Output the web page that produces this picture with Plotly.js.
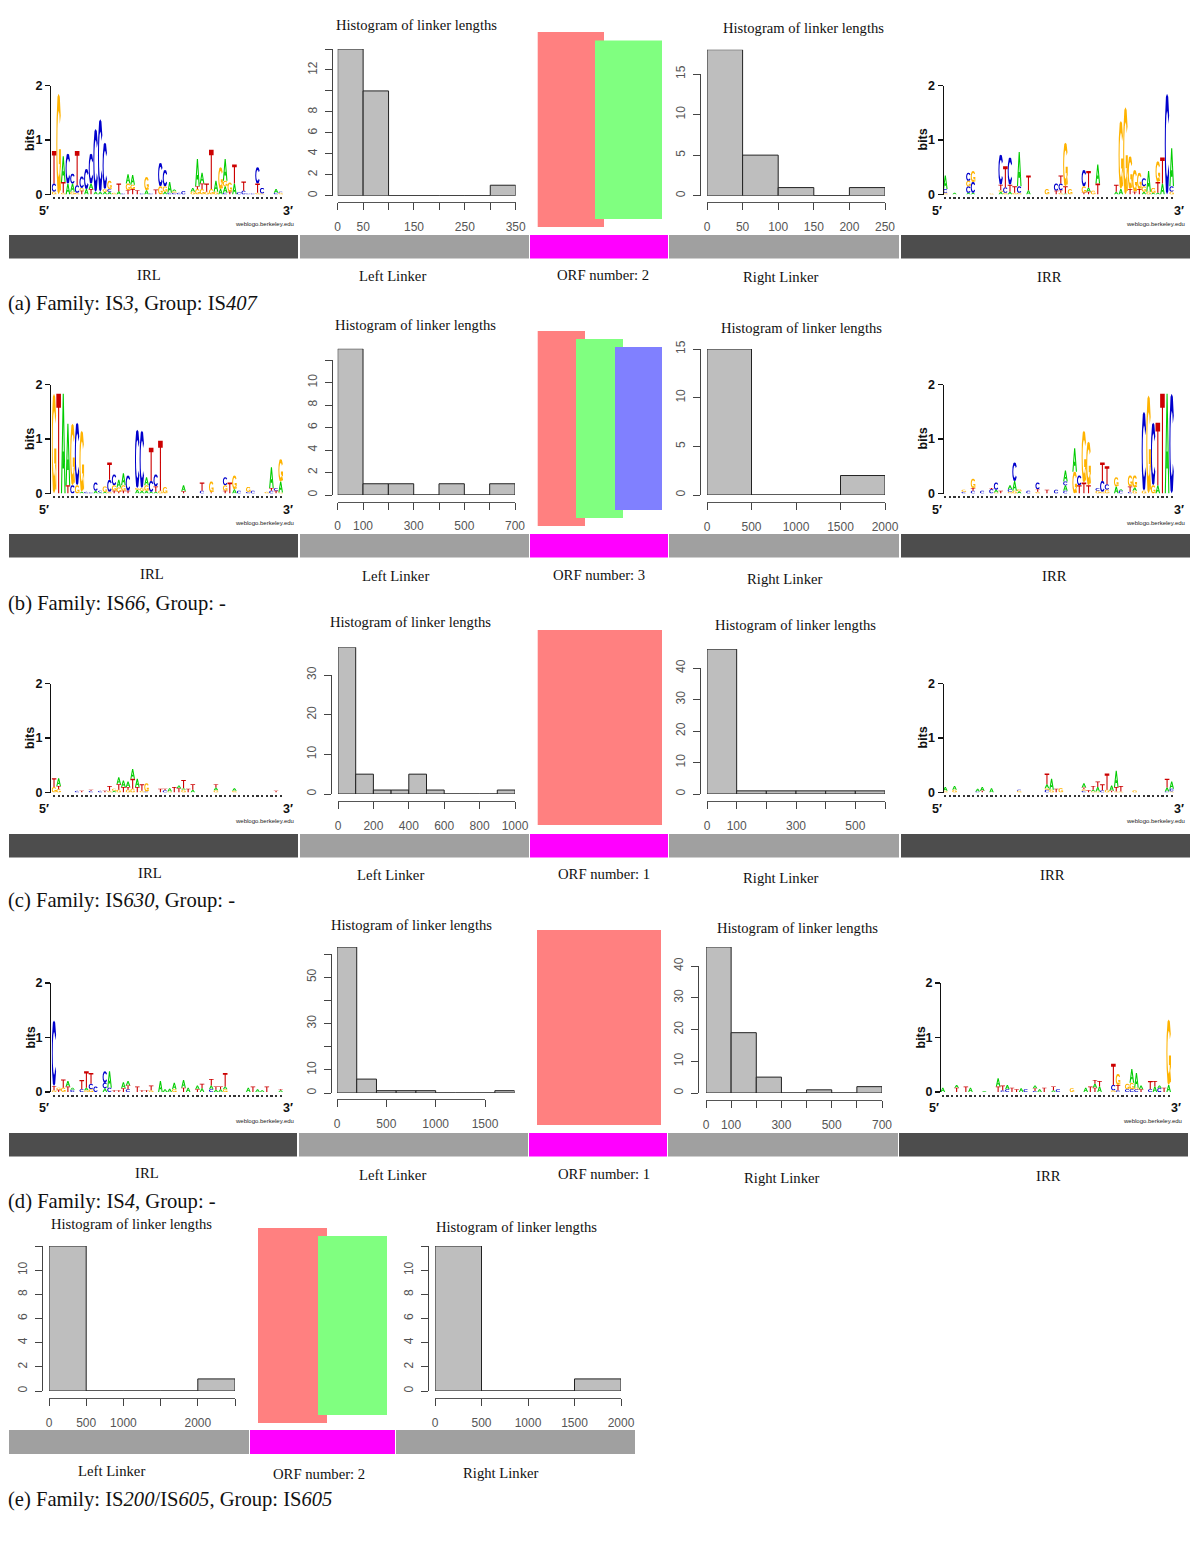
<!DOCTYPE html>
<html><head><meta charset="utf-8">
<script src="https://cdn.plot.ly/plotly-3.0.1.min.js"></script>
<style>html,body{margin:0;padding:0;background:#fff}</style></head>
<body><div id="chart" style="width:1200px;height:1553px"></div>
<script>
// ---------- Sequence logo values: "column:stack" with letter heights in hundredths of a bit, bottom to top
const logoIRLa=["1:G5 C15 T60","2:G185","3:G3 T20 A47","4:A20 C55","5:G5 A15 C18","6:G3 C14 T63","7:T7 G5 C21","8:A10 C37","9:T10 A10 C55","10:A5 C115","11:A5 C133","12:A5 G5 C85","13:A5 C5 G15","14:G3","15:A6 T14","16:C2","17:T8 G12 A17","18:T10 G8 A18","19:T8","20:C2","21:A8 G24","22:C2","23:T9","24:G15 C43","25:A5 G10 C30","26:C3 A20","27:C3 G3 A3","28:C3","29:C6","31:G5 A7","32:G10 T5 A50","33:G10 T10 A20","34:G5 T15","35:G10 T72","36:G5 A20","37:A10 G40","38:C3 A12 G10 A40","39:T5 G17","40:A20 T35","41:C4","42:C7 T17","43:C2","44:C2","45:G3 T17 C30","46:G2 C10","49:C3 A7","50:G3 C2"];
const logoIRRa=["1:G3 C7 A25","3:A3","6:A3 C12 G10 C15","7:A3 C20 G20","11:G2","13:A5 G3 T10 C55","14:G3 C10 T39","15:A5 T13 C50","16:G3 T12","17:G3 C12 A63","19:A8 T27","23:G10","25:T7 C13","26:G3 T5 C12 T15","27:A2 T13 G80","28:G10","31:T3 G12 C30","32:T5 A8 T30","33:G7","34:T20 A35","38:A5 T13","39:A10 G125","40:G160","41:T10 G60","42:T5 G40","43:T10 G30","44:A5 G10 C15","45:G5 A38","46:A3 G9","47:A3 T20 G38","48:A20 T48","49:C185","50:G5 C10 A70"];
const logoIRLb=["1:G183","2:T183","3:A183","4:T15 A113","5:C15 G113","6:G15 C115","7:A3 G112","8:C3","9:C2","10:A5 C15","11:A2 C3","12:A3 G10","13:G3 C22 T32","14:T5 G10 C20","15:T3 G8 A14","16:T5 G10 A22","17:T5 C28","19:A7 G3 C107","20:A5 G5 C105","21:A5 G10 A15","22:A3 C20 T61","23:A3 T10 C22","24:G5 T92","25:G12","29:T4 A11","33:C5 T15","35:T2 G20","38:T5 G10 C15","39:T20","40:A8 G25","41:C5","43:C3 G9","44:C5","47:G3","48:C5 T5 A38","49:T5 C5","50:G2 A20 G41"];
const logoIRRb=["5:C3 G4","7:C5 T5 G17","9:C5","11:C8 T2","12:G2 A5 C13","13:T5","15:G3 C5 A7","16:G5 A18 C34","17:A4 G4","19:C5","21:G3 T5 C12","23:T7","25:C7","27:C5 A10 C7 A20","29:G40 A43","30:T15 C18","31:T20 G95","32:T15 G80","34:G5 C5","35:G3 C20 T34","36:G7 C10 T33","38:A13 G17","39:C5 A3","41:C3 T10 G20","42:G5 A6 G22","44:G5 C145","45:G180","46:G15 C115","47:A15 T115","48:T183","49:A183","50:C183"];
const logoIRLc=["1:G10 T16","2:G6 T6 A14","6:C3","7:T3","9:C3 T2","11:C3","12:T3","13:G3 T9","14:A3 G4","15:G5 T10 A13","16:T10 A12","17:G5 T5 A10","18:G7 T18 A18","19:T10 A15","20:G3 T12","21:C2 G15","24:T7","25:C4 T3","26:G2 A6","27:T10","28:T8 A5","29:G5 A3 T15","30:T7","31:A5 T10","36:G4 A5 T6","40:G3 A5","49:T3"];
const logoIRRc=["1:G3 A7","3:G5 A7","8:C2 A5","9:T3 A7","11:A8","17:G3 C2","23:C5 G3 A7 T20","24:G5 A20","25:T7","26:G8","31:C3 G3 T3 A8","32:T4","33:G2 A3 T7","34:G2 A8 T10","35:C4 T11","36:G5 T30","37:T3 A10","38:G2 T8 A30","39:G2 T10","42:G4","49:C2 A7 T16","50:G2 C5 A13"];
const logoIRLd=["1:G3 T8 C120","2:T4 G4","3:G8 T15","4:T10 A10","5:C4 A4","7:C5 T17","8:G3 A5 T30","9:G5 C10 T20","10:C10","12:A7 C10 C21","13:C8 A30","14:T3","15:T3","16:T7 A11","17:C5 T7 A8","19:T10","20:T3","21:T3","22:G3 T9","24:A20","25:A5","26:A6","27:G5 A12","29:T8 A14","30:A8","32:T5 A7","33:A7 T8","35:C5 A7 T12","36:A4 T6","37:A5 T5","38:G5 A5 T25","43:A8","44:T10","45:A5","46:A3","47:T10","50:A3 T2"];
const logoIRRd=["1:A8","4:T8 A5","6:T10","7:A8","10:A2","13:T10 A15","14:C3 T9","15:C5 A8","16:T8","17:T5","18:A7","19:C5","21:C2 T5 A5","22:A5","23:T8","25:A3 T7","26:C5","29:G7","32:A8","33:T10","34:T8 A7 T7","35:A10 T10","38:G3 C10 T39","39:C3 T10 G20","41:C5 G10","42:C5 G12 A25","43:C5 G3 A27","44:T5 A7","46:C5 T15","47:A10 T10","48:C7 A5","49:T8","50:A13 G120"];

// ---------- Histogram values
const edgesAL=[0,50,100,150,200,250,300,350], countsAL=[14,10,0,0,0,0,1];
const edgesAR=[0,50,100,150,200,250], countsAR=[18,5,1,0,1];
const edgesBL=[0,100,200,300,400,500,600,700], countsBL=[13,1,1,0,1,0,1];
const edgesBR=[0,500,1000,1500,2000], countsBR=[15,0,0,2];
const edgesCL=[0,100,200,300,400,500,600,700,800,900,1000], countsCL=[37,5,1,1,5,1,0,0,0,1];
const edgesCR=[0,100,200,300,400,500,600], countsCR=[46,1,1,1,1,1];
const edgesDL=[0,200,400,600,800,1000,1200,1400,1600,1800], countsDL=[63,6,1,1,1,0,0,0,1];
const edgesDR=[0,100,200,300,400,500,600,700], countsDR=[46,19,5,0,1,0,2];
const edgesEL=[0,500,1000,1500,2000,2500], countsEL=[12,0,0,0,1];
const edgesER=[0,500,1000,1500,2000], countsER=[12,0,0,1];

// ---------- Tick labels
const xTicksAL=[0,50,100,150,200,250,300,350], xLabelsAL=['0','50','','150','','250','','350'];
const yTicksAL=[0,2,4,6,8,10,12,14], yLabelsAL=['0','2','4','6','8','','12',''];
const xTicksAR=[0,50,100,150,200,250], xLabelsAR=['0','50','100','150','200','250'];
const yTicksAR=[0,5,10,15], yLabelsAR=['0','5','10','15'];
const xTicksBL=[0,100,200,300,400,500,600,700], xLabelsBL=['0','100','','300','','500','','700'];
const yTicksBL=[0,2,4,6,8,10,12], yLabelsBL=['0','2','4','6','8','10',''];
const xTicksBR=[0,500,1000,1500,2000], xLabelsBR=['0','500','1000','1500','2000'];
const yTicksBR=[0,5,10,15], yLabelsBR=['0','5','10','15'];
const xTicksCL=[0,200,400,600,800,1000], xLabelsCL=['0','200','400','600','800','1000'];
const yTicksCL=[0,10,20,30], yLabelsCL=['0','10','20','30'];
const xTicksCR=[0,100,200,300,400,500,600], xLabelsCR=['0','100','','300','','500',''];
const yTicksCR=[0,10,20,30,40], yLabelsCR=['0','10','20','30','40'];
const xTicksDL=[0,500,1000,1500], xLabelsDL=['0','500','1000','1500'];
const yTicksDL=[0,10,20,30,40,50,60], yLabelsDL=['0','10','','30','','50',''];
const xTicksDR=[0,100,200,300,400,500,600,700], xLabelsDR=['0','100','','300','','500','','700'];
const yTicksDR=[0,10,20,30,40], yLabelsDR=['0','10','20','30','40'];
const xTicksEL=[0,500,1000,1500,2000,2500], xLabelsEL=['0','500','1000','','2000',''];
const yTicksEL=[0,2,4,6,8,10,12], yLabelsEL=['0','2','4','6','8','10',''];
const xTicksER=[0,500,1000,1500,2000], xLabelsER=['0','500','1000','1500','2000'];
const yTicksER=[0,2,4,6,8,10,12], yLabelsER=['0','2','4','6','8','10',''];

// ---------- Texts
const captions=['(a) Family: IS<i>3</i>, Group: IS<i>407</i>','(b) Family: IS<i>66</i>, Group: -','(c) Family: IS<i>630</i>, Group: -','(d) Family: IS<i>4</i>, Group: -','(e) Family: IS<i>200</i>/IS<i>605</i>, Group: IS<i>605</i>'];
const histTitle='Histogram of linker lengths';

// ---------- Page geometry and style
const W=1200,H=1553;
const SERIF='"Liberation Serif","Times New Roman",serif', SANS='"Liberation Sans",Arial,sans-serif';
const LETTER_COLORS={A:'#00cc00',C:'#0000cc',G:'#ffb300',T:'#cc0000'};
const cOuter=[[.95,.78],[.75,.97],[.5,1],[.25,.97],[.05,.75],[0,.5],[.05,.25],[.25,.03],[.5,0],[.75,.03],[.95,.22],[.75,.3],[.65,.2],[.5,.17],[.35,.22],[.25,.35],[.22,.5],[.25,.65],[.35,.78],[.5,.83],[.65,.8],[.75,.7]];
const GLYPHS={
 T:[[[0,.86],[1,.86],[1,1],[0,1]],[[.38,0],[.62,0],[.62,.86],[.38,.86]]],
 A:[[[0,0],[.38,1],[.62,1],[1,0],[.76,0],[.5,.72],[.24,0]],[[.3,.25],[.7,.25],[.62,.42],[.38,.42]]],
 C:[cOuter],
 G:[cOuter,[[.55,.45],[1,.45],[1,.04],[.8,.04],[.8,.3],[.55,.3]]]
};

const data=[],annotations=[],shapes=[],layout={};
let axN=0;
const note=(x,y,text,size,opt={})=>annotations.push(Object.assign({xref:'paper',yref:'paper',x:x/W,y:1-y/H,text,showarrow:false,xanchor:'center',yanchor:'middle',font:{family:SERIF,size,color:'#111'}},opt));
const rect=(x0,y0,x1,y1,color,layer)=>shapes.push({type:'rect',xref:'paper',yref:'paper',x0:x0/W,x1:x1/W,y0:1-y1/H,y1:1-y0/H,fillcolor:color,line:{width:0},layer:layer||'below'});

function addLogo(rows,g){
  axN++;const xn='x'+axN,yn='y'+axN,xa='xaxis'+axN,ya='yaxis'+axN;
  const byLetter={A:{x:[],y:[]},C:{x:[],y:[]},G:{x:[],y:[]},T:{x:[],y:[]}};
  rows.forEach(r=>{
    const [col,stack]=r.split(':');let base=0;const c=+col;
    stack.split(' ').forEach(s=>{
      const L=s[0],h=+s.slice(1)/100;
      GLYPHS[L].forEach(poly=>{
        poly.forEach(p=>{byLetter[L].x.push(c-.5+p[0]);byLetter[L].y.push(base+p[1]*h);});
        byLetter[L].x.push(c-.5+poly[0][0]);byLetter[L].y.push(base+poly[0][1]*h);
        byLetter[L].x.push(null);byLetter[L].y.push(null);
      });
      base+=h;
    });
  });
  Object.keys(byLetter).forEach(L=>data.push({type:'scatter',mode:'none',fill:'toself',fillcolor:LETTER_COLORS[L],x:byLetter[L].x,y:byLetter[L].y,xaxis:xn,yaxis:yn,hoverinfo:'skip',showlegend:false,cliponaxis:false}));
  layout[xa]={domain:[g.x0/W,g.x1/W],range:[.5,50.5],anchor:'free',position:1-(g.y0+1.5)/H,showgrid:false,zeroline:false,showline:false,ticks:'outside',ticklen:2,tickwidth:2.2,tickcolor:'#333',tickvals:Array.from({length:50},(_,i)=>i+1),showticklabels:false,fixedrange:true};
  layout[ya]={domain:[1-g.y0/H,1-g.y2/H],range:[0,2],anchor:'free',position:g.ax/W,showgrid:false,zeroline:false,showline:true,linecolor:'#111',linewidth:1.3,ticks:'outside',ticklen:5,tickwidth:1.3,tickcolor:'#111',tickvals:[0,1,2],ticktext:['0','1','2'],tickfont:{family:SANS,size:12.5,color:'#111',weight:'bold'},fixedrange:true};
  const sans={family:SANS,size:12.5,color:'#111',weight:'bold'};
  note(g.ax-20,(g.y0+g.y2)/2,'bits',12.5,{font:sans,textangle:-90});
  note(g.ax-6,g.y0+16,'5′',12.5,{font:sans});
  note(g.x1+5,g.y0+16,'3′',12.5,{font:sans});
  note(g.x1-19,g.y0+29,'weblogo.berkeley.edu',6,{font:{family:SANS,size:6,color:'#222'}});
}

function addHist(edges,counts,xTicks,xLabels,yTicks,yLabels,g){
  // bars live on a hidden axis pair scaled like the tick axes, so a bar may run past the end of the drawn axis line
  const xTop=xTicks[xTicks.length-1],yTop=yTicks[yTicks.length-1];
  const xMax=Math.max(xTop,edges[edges.length-1]),yMax=Math.max(yTop,...counts);
  const barX1=g.x0+(g.x1-g.x0)*xMax/xTop,barY1=g.y0-(g.y0-g.y1)*yMax/yTop;
  axN++;const bx='x'+axN,by='y'+axN;
  const mid=counts.map((_,i)=>(edges[i]+edges[i+1])/2),wid=counts.map((_,i)=>edges[i+1]-edges[i]);
  data.push({type:'bar',x:mid,y:counts,width:wid,xaxis:bx,yaxis:by,marker:{color:'#bebebe',line:{color:'#222',width:1}},hoverinfo:'skip',showlegend:false});
  layout['xaxis'+axN]={domain:[g.x0/W,barX1/W],range:[0,xMax],anchor:by,visible:false,fixedrange:true};
  layout['yaxis'+axN]={domain:[1-g.y0/H,1-barY1/H],range:[0,yMax],anchor:bx,visible:false,fixedrange:true};
  axN++;const xn='x'+axN,yn='y'+axN;
  data.push({type:'scatter',mode:'none',x:[0,xTop],y:[0,yTop],xaxis:xn,yaxis:yn,hoverinfo:'skip',showlegend:false});
  const tf={family:SANS,size:12,color:'#555'};
  layout['xaxis'+axN]={domain:[g.x0/W,g.x1/W],range:[0,xTop],anchor:'free',position:1-g.ax_y/H,showgrid:false,zeroline:false,showline:true,linecolor:'#555',linewidth:1.2,ticks:'outside',ticklen:7,tickcolor:'#444',tickvals:xTicks,ticktext:xLabels,tickangle:0,tickfont:tf,ticklabelstandoff:6,fixedrange:true};
  layout['yaxis'+axN]={domain:[1-g.y0/H,1-g.y1/H],range:[0,yTop],anchor:'free',position:g.ax_x/W,showgrid:false,zeroline:false,showline:true,linecolor:'#444',linewidth:1,ticks:'outside',ticklen:7,tickcolor:'#444',tickvals:yTicks,ticktext:yLabels,tickangle:-90,tickfont:tf,ticklabelstandoff:3,fixedrange:true};
  note(g.tx,g.ty,histTitle,14.6);
}

// ---------- Row a
addLogo(logoIRLa,{x0:51.7,x1:283,ax:50,y0:194.5,y2:85.5});
addHist(edgesAL,countsAL,xTicksAL,xLabelsAL,yTicksAL,yLabelsAL,{x0:337.7,x1:515.7,y0:195.7,y1:49,ax_x:331.7,ax_y:202,tx:417,ty:25});
addHist(edgesAR,countsAR,xTicksAR,xLabelsAR,yTicksAR,yLabelsAR,{x0:707,x1:885,y0:195.7,y1:74,ax_x:700,ax_y:202,tx:803,ty:28});
addLogo(logoIRRa,{x0:943,x1:1174,ax:942.5,y0:194.5,y2:85.5});
// ---------- Row b
addLogo(logoIRLb,{x0:51.7,x1:283,ax:50,y0:493.5,y2:384.5});
addHist(edgesBL,countsBL,xTicksBL,xLabelsBL,yTicksBL,yLabelsBL,{x0:337.7,x1:515,y0:495,y1:360,ax_x:331.7,ax_y:501.7,tx:415,ty:325});
addHist(edgesBR,countsBR,xTicksBR,xLabelsBR,yTicksBR,yLabelsBR,{x0:707,x1:885,y0:495,y1:349,ax_x:700,ax_y:502,tx:801,ty:328});
addLogo(logoIRRb,{x0:943,x1:1174,ax:942.5,y0:493.5,y2:384.5});
// ---------- Row c
addLogo(logoIRLc,{x0:51.7,x1:283,ax:50,y0:792.5,y2:683.5});
addHist(edgesCL,countsCL,xTicksCL,xLabelsCL,yTicksCL,yLabelsCL,{x0:338,x1:515,y0:794,y1:675,ax_x:331,ax_y:801,tx:410,ty:622});
addHist(edgesCR,countsCR,xTicksCR,xLabelsCR,yTicksCR,yLabelsCR,{x0:707,x1:885,y0:794,y1:668,ax_x:700,ax_y:801,tx:795,ty:625});
addLogo(logoIRRc,{x0:943,x1:1174,ax:942.5,y0:792.5,y2:683.5});
// ---------- Row d
addLogo(logoIRLd,{x0:51.7,x1:283,ax:50,y0:1092,y2:983});
addHist(edgesDL,countsDL,xTicksDL,xLabelsDL,yTicksDL,yLabelsDL,{x0:337,x1:485,y0:1093,y1:954,ax_x:331,ax_y:1099,tx:411,ty:925});
addHist(edgesDR,countsDR,xTicksDR,xLabelsDR,yTicksDR,yLabelsDR,{x0:706,x1:882,y0:1093,y1:966,ax_x:698,ax_y:1100,tx:797,ty:928});
addLogo(logoIRRd,{x0:940.5,x1:1171,ax:940,y0:1092,y2:983});
// ---------- Row e
addHist(edgesEL,countsEL,xTicksEL,xLabelsEL,yTicksEL,yLabelsEL,{x0:49,x1:235,y0:1391,y1:1246,ax_x:41.7,ax_y:1398,tx:131,ty:1224});
addHist(edgesER,countsER,xTicksER,xLabelsER,yTicksER,yLabelsER,{x0:435,x1:621,y0:1391,y1:1246,ax_x:428,ax_y:1398,tx:516,ty:1227});

// ---------- Gene strips, ORF boxes, labels
const DARK='#4d4d4d',GREY='#a0a0a0',MAG='#ff00ff',RED='#ff8080',GRN='#80ff80',BLU='#8080ff';
[235,534,834].forEach(y=>{rect(9,y,298,y+23.5,DARK);rect(300,y,529,y+23.5,GREY);rect(530,y,668,y+23.5,MAG);rect(669,y,899,y+23.5,GREY);rect(901,y,1190,y+23.5,DARK);});
rect(9,1133,297,1156.5,DARK);rect(299,1133,528,1156.5,GREY);rect(529,1133,667,1156.5,MAG);rect(668,1133,898,1156.5,GREY);rect(899,1133,1188,1156.5,DARK);
rect(9,1430,249,1454,GREY);rect(250,1430,395,1454,MAG);rect(396,1430,635,1454,GREY);
rect(537.7,32,604,227,RED);rect(595,40.5,662,219,GRN);
rect(537.7,331,585,526,RED);rect(576,339,623,518,GRN);rect(615,347,662,510,BLU);
rect(537.7,630,662,825,RED);
rect(537,930,661,1125,RED);
rect(258,1228,327,1423,RED);rect(318,1236,387,1415,GRN);

[['IRL',149,275],['Left Linker',392,276],['ORF number: 2',603,275],['Right Linker',781,277],['IRR',1049,277],
 ['IRL',152,574],['Left Linker',395,576],['ORF number: 3',599,575],['Right Linker',785,579],['IRR',1054,576],
 ['IRL',150,873],['Left Linker',391,875],['ORF number: 1',604,874],['Right Linker',781,878],['IRR',1052,875],
 ['IRL',147,1173],['Left Linker',392,1175],['ORF number: 1',604,1174],['Right Linker',782,1178],['IRR',1048,1176],
 ['Left Linker',111,1471],['ORF number: 2',319,1474],['Right Linker',501,1473]].forEach(t=>note(t[1],t[2],t[0],14.7));

[303,603,901,1201,1499].forEach((y,i)=>note(6,y,captions[i],20.6,{xanchor:'left'}));

Object.assign(layout,{width:W,height:H,margin:{l:0,r:0,t:0,b:0},paper_bgcolor:'#fff',plot_bgcolor:'rgba(0,0,0,0)',showlegend:false,annotations,shapes,barmode:'overlay',bargap:0,hovermode:false});
Plotly.newPlot('chart',data,layout,{displayModeBar:false,staticPlot:true});
</script></body></html>
